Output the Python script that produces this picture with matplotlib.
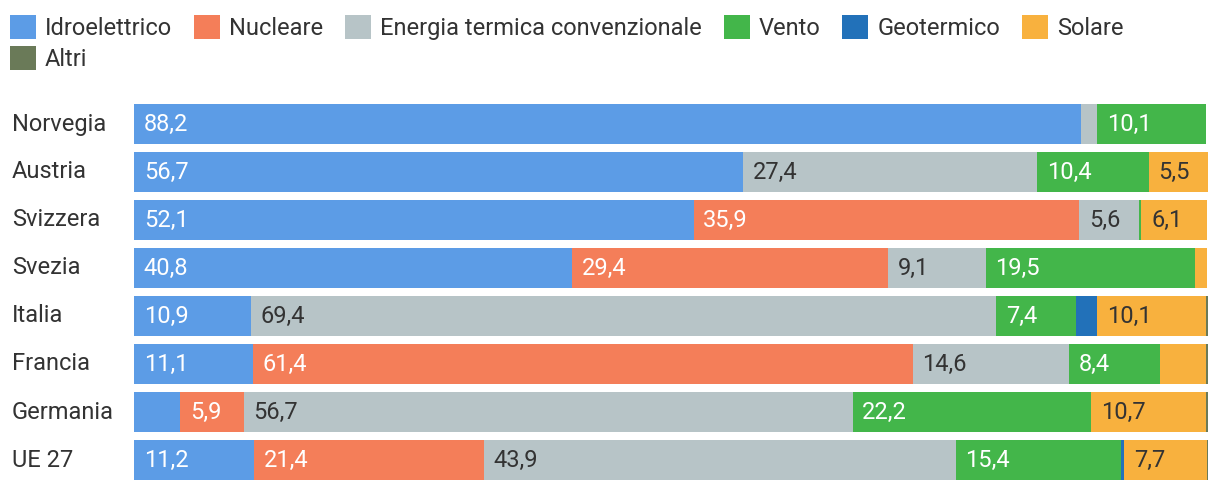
import matplotlib
matplotlib.use("Agg")
import matplotlib.pyplot as plt
from matplotlib.patches import Rectangle
from matplotlib.transforms import blended_transform_factory
import numpy as np

plt.rcParams['font.family'] = ['Roboto', 'DejaVu Sans']

countries = ['Norvegia', 'Austria', 'Svizzera', 'Svezia', 'Italia', 'Francia', 'Germania', 'UE 27']
sources = ['Idroelettrico', 'Nucleare', 'Energia termica convenzionale', 'Vento',
           'Geotermico', 'Solare', 'Altri']

# percent share, one list per source, in country order
idro = [88.2, 56.7, 52.1, 40.8, 10.9, 11.1, 4.3, 11.2]
nucleare = [0.0, 0.0, 35.9, 29.4, 0.0, 61.4, 5.9, 21.4]
termica = [1.5, 27.4, 5.6, 9.1, 69.4, 14.6, 56.7, 43.9]
vento = [10.1, 10.4, 0.2, 19.5, 7.4, 8.4, 22.2, 15.4]
geotermico = [0.0, 0.0, 0.0, 0.0, 2.0, 0.0, 0.0, 0.3]
solare = [0.0, 5.5, 6.1, 1.1, 10.1, 4.3, 10.7, 7.7]
altri = [0.0, 0.0, 0.0, 0.0, 0.2, 0.2, 0.2, 0.2]

series = [idro, nucleare, termica, vento, geotermico, solare, altri]
colors = ['#5c9ce6', '#f47e59', '#b7c4c7', '#43b64a', '#2271b9', '#f8b13e', '#6a7a58']
text_colors = ['white', 'white', '#333333', 'white', 'white', '#333333', 'white']

FS = 17
DARK = '#333333'

fig = plt.figure(figsize=(12.2, 4.9), dpi=100)
W, H = 1220, 490
ax = fig.add_axes([134 / W, 6 / H, 1074 / W, 384 / H])

y = np.arange(len(countries))
left = np.zeros(len(countries))
for vals, col, tc in zip(series, colors, text_colors):
    vals = np.array(vals)
    ax.barh(y, vals, left=left, height=40 / 48, color=col, linewidth=0)
    for yi, (l, v) in enumerate(zip(left, vals)):
        if v >= 5:
            ax.annotate(f'{v:.1f}'.replace('.', ','), xy=(l, yi), xytext=(7, 0),
                        textcoords='offset points', ha='left', va='center',
                        color=tc, fontsize=FS)
    left = left + vals

ax.set_xlim(0, 100)
ax.set_ylim(len(countries) - 0.5, -0.5)
ax.axis('off')

trans = blended_transform_factory(fig.transFigure, ax.transData)
for yi, c in enumerate(countries):
    ax.text(12 / W, yi, c, transform=trans, ha='left', va='center',
            color=DARK, fontsize=FS)

# legend is filled column-first, so put "Altri" second to land under the first entry
handles = [Rectangle((0, 0), 1, 1, color=c, linewidth=0) for c in colors]
order = [0, 6, 1, 2, 3, 4, 5]
fig.legend([handles[i] for i in order], [sources[i] for i in order],
           ncol=6, loc='upper left',
           bbox_to_anchor=(10 / W, 1 - 15 / H), frameon=False,
           fontsize=FS, handlelength=1.1, handleheight=1.18,
           handletextpad=0.38, columnspacing=0.93, labelspacing=0.25,
           borderpad=0, borderaxespad=0, labelcolor=DARK)

fig.savefig('out.png', dpi=100)
